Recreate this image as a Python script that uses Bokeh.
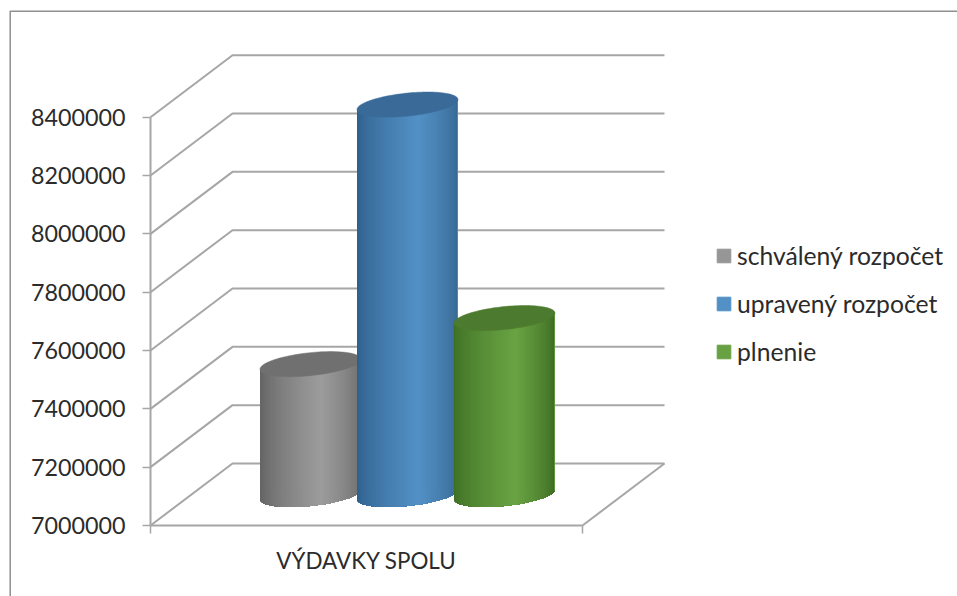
from bokeh.embed import file_html
from bokeh.resources import INLINE
from bokeh.plotting import figure
from bokeh.models import (Range1d, LinearAxis, FixedTicker, BasicTickFormatter,
                          Legend, LegendItem)
import numpy as np

category = "VÝDAVKY SPOLU"
series_names = ["schválený rozpočet", "upravený rozpočet", "plnenie"]
series_values = [7447000, 8337000, 7605000]
y_ticks = [7000000, 7200000, 7400000, 7600000, 7800000, 8000000, 8200000, 8400000]
legend_colors = ["#969696", "#5290c6", "#68a142"]
cap_colors = ["#707070", "#3a6b98", "#4c7a2e"]
edge_left = ["#626262", "#2f5f8b", "#3d6e24"]
edge_right = ["#6c6c6c", "#386892", "#3c6a22"]
mid_colors = ["#9c9c9c", "#5290c5", "#69a343"]

# layout (screen pixels of the page)
PX0, PXW, PY0, STEP = 150.0, 432.0, 525.0, 58.33
L, R, T, B = 0.0, 957.0, 0.0, 596.0
per_px = 200000 / STEP
x_of = lambda px: (px - PX0) / PXW
y_of = lambda py: y_ticks[0] + (PY0 - py) * per_px
DX, DV = 82 / PXW, 62 * per_px          # depth of the 3D box
RX, TILT, RK = 50.5 / PXW, 5 * per_px, 11.5 * per_px   # cylinder ellipse
SLOT = 0.2245

p = figure(width=957, height=596, output_backend="svg", toolbar_location=None,
           x_range=Range1d(x_of(L), x_of(R)), y_range=Range1d(y_of(B), y_of(T)),
           x_axis_type=None, y_axis_type=None, min_border=0, outline_line_color=None,
           background_fill_color="white", border_fill_color="white")
p.xgrid.visible = False
p.ygrid.visible = False

# chart-area border (left and top)
p.line([x_of(9.7), x_of(9.7), x_of(R)], [y_of(B), y_of(10.7), y_of(10.7)],
       line_color="#8f8f8f", line_width=1.5)

# wall gridlines and floor
GRID = "#a6a6a6"
p.multi_line([[0, DX, 1 + DX] for v in y_ticks],
             [[v, v + DV, v + DV] for v in y_ticks], line_color=GRID, line_width=2)
p.line([1, 1 + DX], [y_ticks[0], y_ticks[0] + DV], line_color=GRID, line_width=2)

def mix(c1, c2, f):
    a = [int(c1[i:i + 2], 16) for i in (1, 3, 5)]
    b = [int(c2[i:i + 2], 16) for i in (1, 3, 5)]
    return "#%02x%02x%02x" % tuple(int(round(x + (y - x) * f)) for x, y in zip(a, b))

base = y_ticks[0] + DV / 2
N = 80
arc = lambda u: TILT * u - RK * np.sqrt(np.maximum(0, 1 - u * u))
for i, val in enumerate(series_values):
    cx = 0.5 + (i - 1) * SLOT + DX / 2
    top = val + DV / 2
    us = np.sin(np.linspace(-np.pi / 2, np.pi / 2, N + 1))
    for a in us[:-1]:
        # each strip reaches to the right edge; the next one paints over it, leaving no seams
        u = us[us >= a]
        m = a + 0.0125
        peak = 0.2
        if m < peak:
            col = mix(edge_left[i], mid_colors[i], min(1, ((m + 1) / (peak + 1)) ** 0.7))
        else:
            col = mix(edge_right[i], mid_colors[i], min(1, ((1 - m) / (1 - peak)) ** 0.7))
        xs = np.concatenate([cx + RX * u, [cx + RX, cx + RX * a]])
        ys = np.concatenate([base + arc(u), [top + TILT, top + TILT * a]])
        p.patch(xs, ys, fill_color=col, line_color=None)
    t = np.linspace(0, 2 * np.pi, 121)
    p.patch(cx + RX * np.cos(t), top + TILT * np.cos(t) + RK * np.sin(t),
            fill_color=cap_colors[i], line_color=cap_colors[i], line_width=0.5)

# axes
FONT = "Lato"
yax = LinearAxis(fixed_location=0, bounds=(y_ticks[0], y_ticks[-1]),
                 ticker=FixedTicker(ticks=y_ticks),
                 formatter=BasicTickFormatter(use_scientific=False),
                 axis_line_color=GRID, axis_line_width=2,
                 major_tick_line_color=GRID, major_tick_line_width=1.5,
                 major_tick_in=0, major_tick_out=8, minor_tick_out=0, minor_tick_in=0,
                 major_label_standoff=17,
                 major_label_text_font=FONT, major_label_text_font_size="23.3px",
                 major_label_text_color="#2b2b2b")
xax = LinearAxis(fixed_location=y_ticks[0], bounds=(0, 1),
                 ticker=FixedTicker(ticks=[0.5], minor_ticks=[0, 1]),
                 major_label_overrides={0.5: category},
                 axis_line_color=GRID, axis_line_width=2,
                 major_tick_in=0, major_tick_out=0,
                 minor_tick_line_color=GRID, minor_tick_line_width=1.5,
                 minor_tick_in=0, minor_tick_out=8,
                 major_label_standoff=13,
                 major_label_text_font=FONT, major_label_text_font_size="22.4px",
                 major_label_text_color="#2b2b2b")
p.add_layout(yax, "left")
p.add_layout(xax, "below")

# legend: area glyphs, so that the swatches fill their box
items = []
for name, c in zip(series_names, legend_colors):
    r = p.quad(left=[np.nan], right=[np.nan], bottom=[np.nan], top=[np.nan],
               fill_color=c, line_color=c)
    items.append(LegendItem(label=name, renderers=[r]))
legend = Legend(items=items, location=(715, 230), orientation="vertical",
                background_fill_alpha=0, border_line_color=None, padding=0, margin=0,
                spacing=19, glyph_width=17, glyph_height=17, label_standoff=5,
                label_text_font=FONT, label_text_font_size="24.7px",
                label_text_color="#2b2b2b")
p.add_layout(legend, "center")

open("out.html", "w").write(file_html(p, INLINE))
